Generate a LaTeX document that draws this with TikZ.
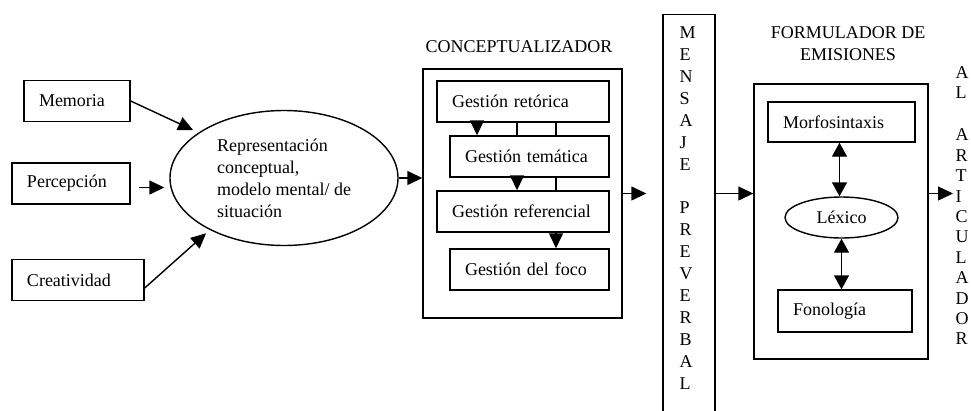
\documentclass[tikz,border=0pt]{standalone}
\usepackage{fontspec}
\setmainfont{Liberation Serif}
\usetikzlibrary{arrows.meta,positioning,shapes.geometric}
\tikzset{
  blk/.style={draw, align=left, inner xsep=15pt, inner ysep=0pt, minimum height=41pt},
  frame/.style={draw, inner sep=0pt},
  arr/.style={-{Triangle[length=15pt,width=14pt]}},
  dbl/.style={{Triangle[length=14pt,width=15pt]}-{Triangle[length=14pt,width=15pt]}}
}
\begin{document}
\begin{tikzpicture}[x=1pt,y=-1pt,line width=1.4pt,font=\fontsize{18}{22}\selectfont]
\useasboundingbox (0,0) rectangle (971,410);

\node[blk, text width=76pt] (mem) at (77,101) {Memoria};
\node[blk, text width=88pt] (per) at (71,183.5) {Percepción};
\node[blk, text width=102pt] (cre) at (78,280) {Creatividad};

\node[ellipse, draw, align=left, inner sep=0pt, minimum width=228pt, minimum height=135pt] (rep) at (284,178) {Representación\\conceptual,\\modelo mental/ de\\situación};

\draw[arr, shorten >=6pt] (mem.east) -- (rep.152);
\draw[arr, shorten <=8pt, shorten >=5pt] ([yshift=-4pt]per.east) -- ([yshift=-4pt]per.east -| rep.west);
\draw[arr, shorten >=5pt] ([yshift=-8pt]cre.east) -- (rep.215);

\node[frame, minimum width=199pt, minimum height=249pt] (con) at (522.5,193.5) {};
\node (contit) at (519,47) {CONCEPTUALIZADOR};
\node[blk, text width=142pt] (ret) at (523,101.5) {Gestión retórica};
\node[blk, text width=129pt] (tem) at (529.5,156.5) {Gestión temática};
\node[blk, text width=142pt] (ref) at (523,211.5) {Gestión referencial};
\node[blk, text width=129pt] (foc) at (529.5,269.5) {Gestión del foco};

\draw[arr] (rep.east) -- (rep.east -| con.west);

\draw[arr] ([xshift=-46pt]ret.south) -- ([xshift=-52.5pt]tem.north);
\draw ([xshift=-6pt]ret.south) -- ([xshift=-12.5pt]tem.north);
\draw ([xshift=33pt]ret.south) -- ([xshift=26.5pt]tem.north);
\draw[arr] ([xshift=-12.5pt]tem.south) -- ([xshift=-6pt]ref.north);
\draw ([xshift=26.5pt]tem.south) -- ([xshift=33pt]ref.north);
\draw[arr] ([xshift=33pt]ref.south) -- ([xshift=26.5pt]foc.north);

\node[frame, minimum width=52pt, minimum height=406pt, anchor=north] (msg) at (689,14) {};
\node[align=left, anchor=west, inner sep=0pt, font=\fontsize{18}{21.9}\selectfont] (msgtxt) at (679,208) {M\\E\\N\\S\\A\\J\\E\\[21.9pt]P\\R\\E\\V\\E\\R\\B\\A\\L};

\draw[arr, shorten >=16pt] (con.east) -- (con.east -| msg.west);

\node[frame, minimum width=174pt, minimum height=275pt] (frm) at (841,221.5) {};
\node[align=center] (frmtit) at (848,44) {FORMULADOR DE\\EMISIONES};
\coordinate (fin) at ([yshift=28pt]frm.west);
\draw[arr] (msg.east |- fin) -- (fin);

\node[blk, text width=117pt, minimum height=40pt] (mor) at (841.5,122) {Morfosintaxis};
\node[ellipse, draw, inner sep=0pt, minimum width=113pt, minimum height=41pt] (lex) at (841.5,217.5) {Léxico};
\node[blk, text width=104pt, minimum height=42pt] (fon) at (845,311) {Fonología};
\draw[dbl] ([xshift=-2pt]mor.south) -- ([xshift=-2pt]lex.north);
\draw[dbl] (lex.south) -- (lex.south |- fon.north);

\node[align=left, anchor=west, inner sep=0pt, font=\fontsize{18}{20.4}\selectfont] (art) at (955,205.5) {A\\L\\[22pt]A\\R\\T\\I\\C\\U\\L\\A\\D\\O\\R};
\coordinate (fout) at (frm.east |- fin);
\draw[arr, shorten >=2pt] (fout) -- (fout -| art.west);

\end{tikzpicture}
\end{document}
